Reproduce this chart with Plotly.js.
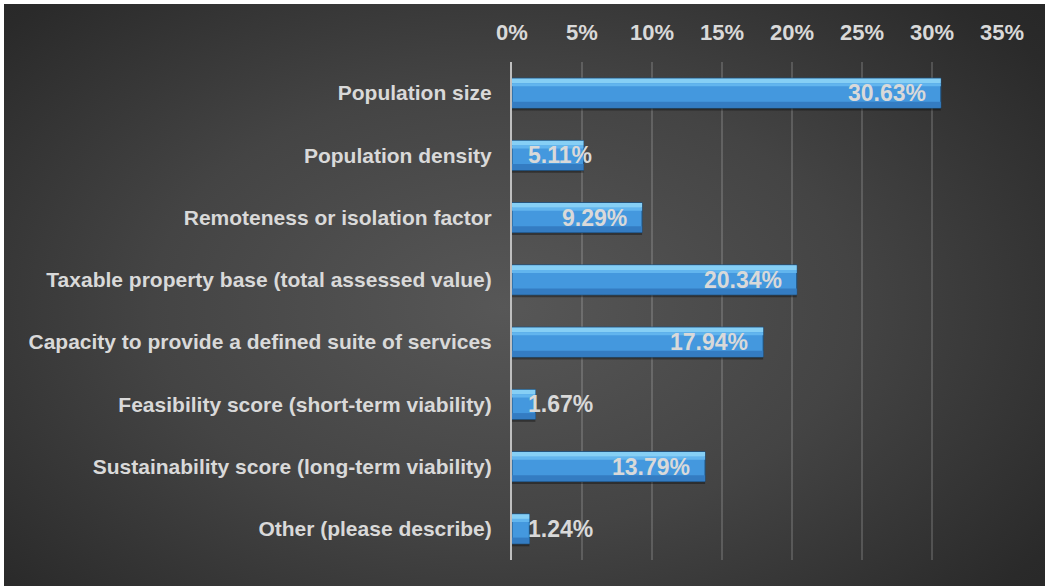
<!DOCTYPE html>
<html>
<head>
<meta charset="utf-8">
<script src="https://cdn.plot.ly/plotly-3.0.1.min.js"></script>
<style>
  html, body { margin: 0; padding: 0; background: #ffffff; width: 1045px; height: 586px; overflow: hidden; }
  #chart {
    position: absolute; left: 4px; top: 4px; width: 1041px; height: 582px;
    background: radial-gradient(ellipse 75% 85% at 48% 52%, #575757 0%, #444444 45%, #2a2a2a 85%, #252525 100%);
  }
</style>
</head>
<body>
<div id="chart"></div>
<script>
// ---- data ----
const categories = [
  "Population size",
  "Population density",
  "Remoteness or isolation factor",
  "Taxable property base (total assessed value)",
  "Capacity to provide a defined suite of services",
  "Feasibility score (short-term viability)",
  "Sustainability score (long-term viability)",
  "Other (please describe)"
];
const values = [0.3063, 0.0511, 0.0929, 0.2034, 0.1794, 0.0167, 0.1379, 0.0124];
const valueLabels = ["30.63%", "5.11%", "9.29%", "20.34%", "17.94%", "1.67%", "13.79%", "1.24%"];
const tickVals = [0, 0.05, 0.10, 0.15, 0.20, 0.25, 0.30, 0.35];
const tickText = ["0%", "5%", "10%", "15%", "20%", "25%", "30%", "35%"];

const FONT = 'Arial, "Liberation Sans", sans-serif';
const TXT = '#d9d9d9';

function barTrace(color, offset, width, line) {
  return {
    type: 'bar', orientation: 'h',
    x: values, y: categories,
    offset: offset, width: width,
    marker: { color: color, line: line || { width: 0 } },
    hoverinfo: 'skip', showlegend: false
  };
}

const traces = [
  barTrace('rgba(0,0,0,0.35)', -0.20, 0.48),                       // shadow
  barTrace('#4498de', -0.24, 0.48, { color: '#1f527f', width: 1 }), // main bar
  barTrace('#86cff5', -0.235, 0.075),                              // top highlight
  barTrace('#62b5ee', -0.16, 0.05),                                // soft highlight
  barTrace('#347cc2', 0.14, 0.095)                                 // lower shade
];

const annotations = values.map((v, i) => {
  const fits = v >= 0.07;
  return {
    x: fits ? v : 0, y: categories[i], xref: 'x', yref: 'y',
    text: valueLabels[i], showarrow: false,
    xanchor: fits ? 'right' : 'left', yanchor: 'middle',
    xshift: fits ? -13 : 14,
    font: { family: FONT, size: 23, color: TXT, weight: 'bold' }
  };
});

const layout = {
  width: 1041, height: 582,
  margin: { l: 508, r: 43, t: 58, b: 26, pad: 0 },
  paper_bgcolor: 'rgba(0,0,0,0)',
  plot_bgcolor: 'rgba(0,0,0,0)',
  barmode: 'overlay',
  font: { family: FONT, color: TXT },
  xaxis: {
    side: 'top', range: [0, 0.35],
    tickvals: tickVals, ticktext: tickText,
    showgrid: true, gridcolor: 'rgba(255,255,255,0.16)', gridwidth: 2,
    zeroline: false, showline: false,
    ticks: 'outside', ticklen: 12, tickcolor: 'rgba(0,0,0,0)',
    tickfont: { family: FONT, size: 22, color: TXT, weight: 'bold' },
    fixedrange: true
  },
  yaxis: {
    type: 'category', categoryorder: 'array', categoryarray: categories,
    autorange: 'reversed',
    showgrid: false, zeroline: false,
    showline: true, linecolor: '#bfbfbf', linewidth: 2,
    ticks: 'outside', ticklen: 14, tickcolor: 'rgba(0,0,0,0)',
    tickfont: { family: FONT, size: 21, color: TXT, weight: 'bold' },
    fixedrange: true
  },
  annotations: annotations
};

Plotly.newPlot('chart', traces, layout, { displayModeBar: false, staticPlot: true });
</script>
</body>
</html>
